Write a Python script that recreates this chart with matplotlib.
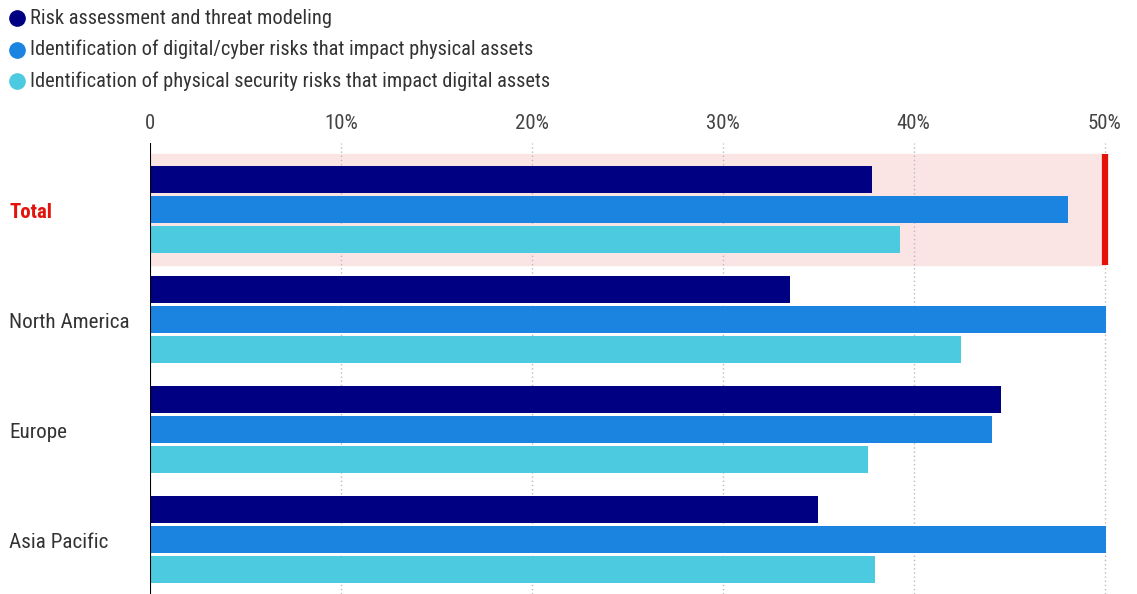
import numpy as np
import matplotlib.pyplot as plt
from matplotlib.lines import Line2D

regions = ["Total", "North America", "Europe", "Asia Pacific"]
series_names = [
    "Risk assessment and threat modeling",
    "Identification of digital/cyber risks that impact physical assets",
    "Identification of physical security risks that impact digital assets",
]
risk_assessment = [37.8, 33.5, 44.6, 35.0]
digital_to_physical = [48.1, 50.1, 44.1, 50.1]
physical_to_digital = [39.3, 42.5, 37.6, 38.0]
ticks = [0, 10, 20, 30, 40, 50]
tick_labels = ["0", "10%", "20%", "30%", "40%", "50%"]

colors = ["#000082", "#1b84e0", "#4ccae0"]
red = "#e3120b"
font = ["Liberation Sans Narrow", "Roboto Condensed", "DejaVu Sans"]
plt.rcParams['font.family'] = font

fig = plt.figure(figsize=(11.37, 5.94), dpi=100)
ax = fig.add_axes([150 / 1137, 0, 966 / 1137, 451 / 594])

y = np.arange(len(regions))
offsets = [-0.27, 0.0, 0.27]
h = 0.245
for vals, off, c in zip([risk_assessment, digital_to_physical, physical_to_digital], offsets, colors):
    ax.barh(y + off, vals, height=h, color=c, zorder=3)

# highlight band for the total row
ax.axhspan(-0.505, 0.505, xmin=0, xmax=50 / 50.6, color="#fae5e4", zorder=0)
ax.plot([50, 50], [-0.505, 0.505], color=red, lw=4.5, solid_capstyle="butt", zorder=4)

ax.set_xlim(0, 50.6)
ax.set_ylim(3.495, -0.605)
ax.xaxis.tick_top()
ax.set_xticks(ticks)
ax.set_xticklabels(tick_labels, fontsize=15, color="#444444")
ax.tick_params(axis="x", length=0, pad=7)
ax.set_yticks([])
for t in ticks[1:]:
    ax.axvline(t, color="#bbbbbb", lw=1, ls=(0, (1, 2)), zorder=1)
ax.axvline(0, color="#000000", lw=1.5, zorder=5)
for s in ax.spines.values():
    s.set_visible(False)

for i, name in enumerate(regions):
    ypix = 594 - (213 + 110 * i)
    if name == "Total":
        fig.text(9 / 1137, ypix / 594, name, fontsize=15, color=red,
                 fontweight="bold", va="center", ha="left")
    else:
        fig.text(9 / 1137, ypix / 594, name, fontsize=15.2, color="#333333",
                 va="center", ha="left")

# legend rows
for i, (name, c) in enumerate(zip(series_names, colors)):
    ypix = 594 - (18 + 31.5 * i)
    fig.add_artist(Line2D([17 / 1137], [ypix / 594], marker="o", markersize=11,
                          color=c, linestyle="none"))
    fig.text(30 / 1137, ypix / 594, name, fontsize=14.7, color="#333333",
             va="center", ha="left")

fig.savefig("out.png", dpi=100)
